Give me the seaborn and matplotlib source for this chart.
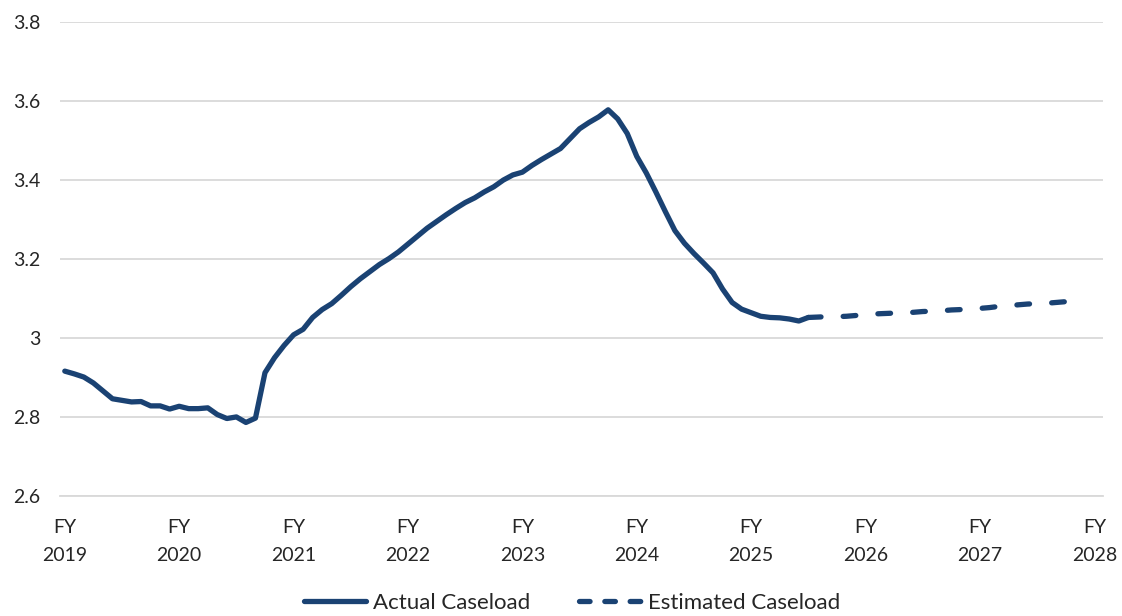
import numpy as np
import pandas as pd
import seaborn as sns
import matplotlib.pyplot as plt
from matplotlib.lines import Line2D

# monthly caseload (millions), starting at the beginning of FY2019
actual = [2.916, 2.909, 2.901, 2.886, 2.866, 2.846, 2.842, 2.838, 2.839, 2.828,
          2.828, 2.820, 2.827, 2.821, 2.821, 2.823, 2.806, 2.796, 2.800, 2.786,
          2.797, 2.912, 2.950, 2.981, 3.008, 3.022, 3.052, 3.072, 3.087, 3.108,
          3.130, 3.150, 3.168, 3.186, 3.201, 3.218, 3.238, 3.258, 3.278, 3.295,
          3.312, 3.328, 3.343, 3.355, 3.370, 3.383, 3.400, 3.413, 3.420, 3.437,
          3.452, 3.466, 3.480, 3.505, 3.530, 3.546, 3.560, 3.578, 3.555, 3.518,
          3.460, 3.418, 3.370, 3.320, 3.272, 3.240, 3.214, 3.190, 3.165, 3.124,
          3.090, 3.073, 3.064, 3.055, 3.052, 3.051, 3.048, 3.043, 3.052]
estimated = [3.052, 3.053, 3.054, 3.054, 3.055, 3.057, 3.059, 3.061, 3.062, 3.063,
             3.064, 3.065, 3.067, 3.068, 3.069, 3.071, 3.072, 3.073, 3.075, 3.077,
             3.080, 3.082, 3.084, 3.086, 3.087, 3.088, 3.090, 3.092, 3.093, 3.094]
fy_labels = ["FY\n2019", "FY\n2020", "FY\n2021", "FY\n2022", "FY\n2023",
             "FY\n2024", "FY\n2025", "FY\n2026", "FY\n2027", "FY\n2028"]
y_ticks = [2.6, 2.8, 3.0, 3.2, 3.4, 3.6, 3.8]
y_labels = ["2.6", "2.8", "3", "3.2", "3.4", "3.6", "3.8"]

navy = "#1a4273"

def main():
  sns.set_theme(style="white")
  plt.rcParams['font.family'] = ['Lato', 'DejaVu Sans']

  df_act = pd.DataFrame({"month": np.arange(len(actual)), "caseload": actual})
  df_est = pd.DataFrame({"month": np.arange(len(actual) - 1, len(actual) - 1 + len(estimated)),
                         "caseload": estimated})

  fig = plt.figure(figsize=(11.22, 6.16), dpi=100)
  ax = fig.add_axes([0.0535, 0.195, 0.9295, 0.769])

  sns.lineplot(data=df_act, x="month", y="caseload", ax=ax, color=navy,
               linewidth=3.8, solid_capstyle="round")
  sns.lineplot(data=df_est, x="month", y="caseload", ax=ax, color=navy,
               linewidth=3.8, dashes=False)
  # long-ish dashes with wide gaps, round caps
  ax.lines[-1].set_dashes((2.4, 4.2))
  ax.lines[-1].set_dash_capstyle("round")

  ax.set_xlim(-0.5, 108.9)
  ax.set_ylim(2.6, 3.8)
  ax.set_xticks(np.arange(0, 109, 12))
  ax.set_xticklabels(fy_labels, fontsize=14, linespacing=1.75)
  ax.set_yticks(y_ticks)
  ax.set_yticklabels(y_labels, fontsize=14)
  ax.tick_params(axis='x', length=0, pad=17, colors="#262626")
  ax.tick_params(axis='y', length=0, pad=14, colors="#262626")
  ax.yaxis.grid(True, color="#d9d9d9", linewidth=1.3)
  for s in ["top", "right", "left"]:
    ax.spines[s].set_visible(False)
  ax.spines["bottom"].set_color("#d9d9d9")
  ax.spines["bottom"].set_linewidth(1.3)
  ax.set_xlabel("")
  ax.set_ylabel("")

  handles = [Line2D([], [], color=navy, linewidth=3.8),
             Line2D([], [], color=navy, linewidth=3.8, dashes=(2.0, 2.8),
                    dash_capstyle="round")]
  fig.legend(handles, ["Actual Caseload", "Estimated Caseload"], loc="center",
             bbox_to_anchor=(0.51, 0.021), ncol=2, frameon=False, fontsize=16,
             handlelength=2.8, handletextpad=0.3, columnspacing=2.2,
             labelcolor="#262626")

  plt.savefig("out.png", dpi=100)

if __name__ == '__main__':
  main()
